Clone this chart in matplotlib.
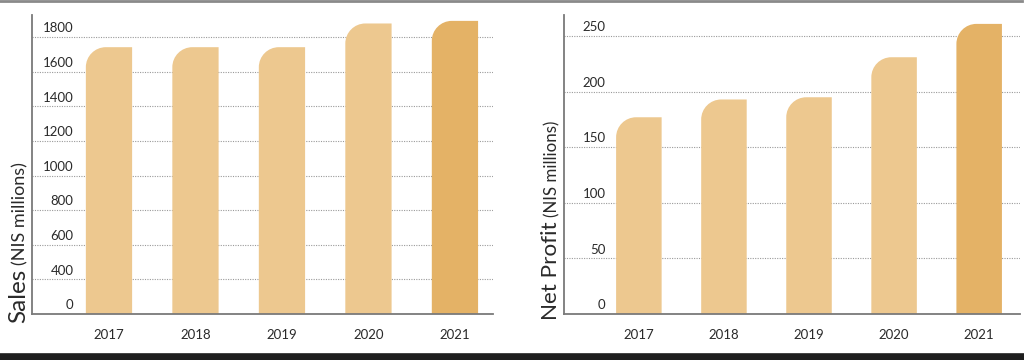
import numpy as np
import matplotlib
matplotlib.use("Agg")
import matplotlib.pyplot as plt
from matplotlib.path import Path
from matplotlib.patches import PathPatch
from matplotlib.lines import Line2D
from matplotlib.transforms import ScaledTranslation

# ── Data ──────────────────────────────────────────────────────────────────────
years = ["2017", "2018", "2019", "2020", "2021"]
sales = [1742, 1742, 1742, 1879, 1894]          # NIS millions
profit = [177, 193, 195, 231, 261]              # NIS millions
sales_ticks = [0, 400, 600, 800, 1000, 1200, 1400, 1600, 1800]
profit_ticks = [0, 50, 100, 150, 200, 250]

LIGHT = "#EDC88F"
DARK = "#E4B266"
GRID = "#9a9a9a"
AXIS = "#7a7a7a"
TXT = "#2a2a2a"
FONT = "Lato"

W, H = 1024, 360
fig = plt.figure(figsize=(W / 100, H / 100), dpi=100)


def fx(px):
    return px / W


def fy(py):  # py measured from the top
    return 1 - py / H


# y-scale of the sales panel: 0..400 squeezed into one tick step
def fwd(v):
    v = np.asarray(v, dtype=float)
    return np.where(v <= 400, v / 2.0, v - 200.0)


def inv(s):
    s = np.asarray(s, dtype=float)
    return np.where(s <= 200, s * 2.0, s + 200.0)


def rounded_bar(ax, x, width, top, color, r=20):
    """bar with a rounded top-left corner (radius r in pixels)"""
    x0 = x - width / 2
    x1 = x + width / 2
    t = ax.transData
    p = t.transform((x0, top))
    k = 0.5523 * r
    disp = np.array([[p[0] + r, p[1]],
                     [p[0] + r - k, p[1]],
                     [p[0], p[1] - r + k],
                     [p[0], p[1] - r]])
    d = t.inverted().transform(disp)
    verts = [(x0, 0), (x1, 0), (x1, top), tuple(d[0]), tuple(d[1]),
             tuple(d[2]), tuple(d[3]), (x0, 0), (x0, 0)]
    codes = [Path.MOVETO, Path.LINETO, Path.LINETO, Path.LINETO,
             Path.CURVE4, Path.CURVE4, Path.CURVE4, Path.LINETO, Path.CLOSEPOLY]
    ax.add_patch(PathPatch(Path(verts, codes), facecolor=color,
                           edgecolor="none", zorder=2))


def panel(rect, values, ticks, ylim, xlim, scale=None):
    ax = fig.add_axes(rect)
    if scale is not None:
        ax.set_yscale("function", functions=scale)
    ax.set_xlim(*xlim)
    ax.set_ylim(*ylim)
    for s in ("top", "right"):
        ax.spines[s].set_visible(False)
    for s in ("left", "bottom"):
        ax.spines[s].set_color(AXIS)
        ax.spines[s].set_linewidth(1.3)
    ax.set_yticks(ticks)
    ax.set_yticklabels([str(t) for t in ticks])
    ax.tick_params(axis="y", length=0, pad=-30, labelsize=9.5,
                   labelcolor=TXT)
    for lbl in ax.get_yticklabels():
        lbl.set_fontfamily(FONT)
        lbl.set_verticalalignment("bottom")
    ax.set_xticks(range(len(years)))
    ax.set_xticklabels(years, fontfamily=FONT, fontsize=9.5, color=TXT)
    ax.tick_params(axis="x", length=0, pad=11)
    for t in ticks[1:]:
        ax.axhline(t, color=GRID, lw=0.8, ls=(0, (1, 1.2)), zorder=1)
    for i, v in enumerate(values):
        rounded_bar(ax, i, 0.535, v, DARK if i == len(values) - 1 else LIGHT)
    return ax


ax1 = panel([fx(32), 46 / H, fx(461), 299 / H], sales, sales_ticks,
            (0, 1928), (-0.89, 4.44), scale=(fwd, inv))
ax2 = panel([fx(564), 46 / H, fx(456), 299 / H], profit, profit_ticks,
            (0, 269), (-0.88, 4.48))

# shift the y tick labels up a bit so they sit on the grid lines
for ax in (ax1, ax2):
    off = ScaledTranslation(0, 2 / 72, fig.dpi_scale_trans)
    for lbl in ax.get_yticklabels():
        lbl.set_transform(lbl.get_transform() + off)

# ── y labels: big title word + smaller unit ───────────────────────────────────
def ylabel(xb, ybot, big, small, bsize, ssize):
    t = fig.text(fx(xb), fy(ybot), big, rotation=90, rotation_mode="anchor",
                 ha="left", va="baseline", fontsize=bsize, color=TXT,
                 fontfamily=FONT)
    fig.canvas.draw()
    bb = t.get_window_extent()
    fig.text(fx(xb), (bb.y1 + 4) / H, small, rotation=90,
             rotation_mode="anchor", ha="left", va="baseline",
             fontsize=ssize, color=TXT, fontfamily=FONT)


ylabel(25, 323, "Sales", "(NIS millions)", 17.5, 13)
ylabel(557, 320, "Net Profit", "(NIS millions)", 16.2, 12.2)

# ── frame lines ──────────────────────────────────────────────────────────────
fig.add_artist(Line2D([0, fx(1022)], [fy(1), fy(1)], color="#8a8a8a", lw=2.0))
fig.add_artist(Line2D([0, 1], [fy(356.5), fy(356.5)], color="#1e1e1e", lw=5.5))

fig.savefig("out.png", dpi=100)
